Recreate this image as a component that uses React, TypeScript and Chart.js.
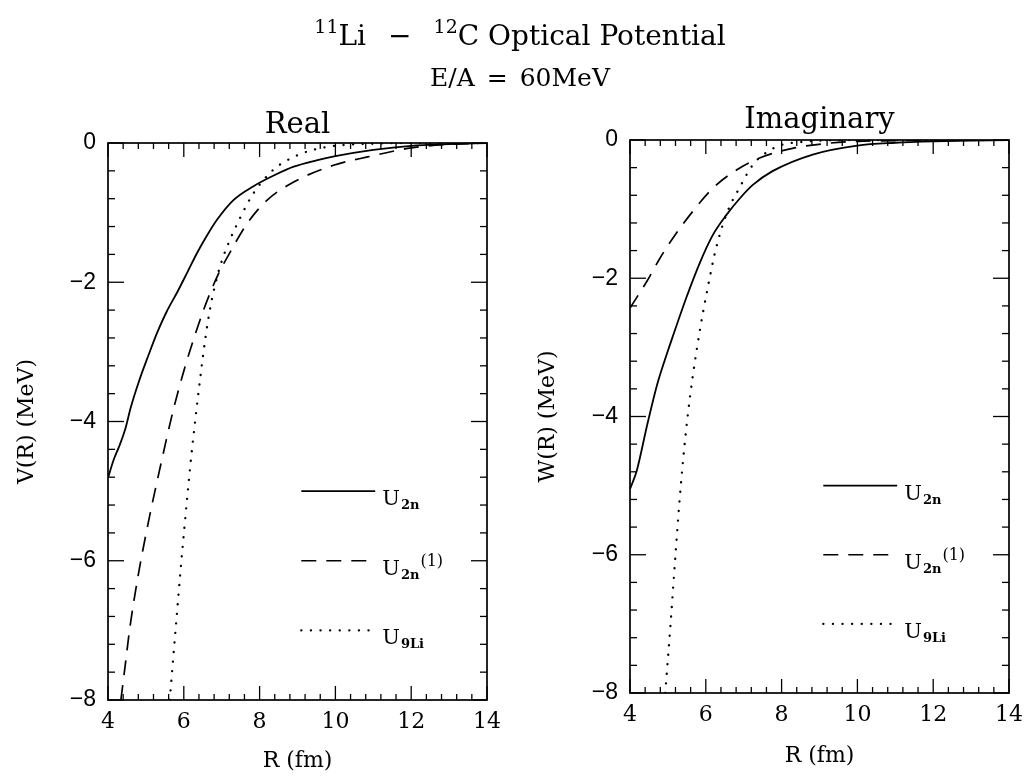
import React, { useEffect, useRef } from "react";
import { Chart, registerables } from "chart.js";
Chart.register(...registerables);

// ---------- data: Real part V(R) ----------
const realR_U2n = [4.0, 4.15, 4.3, 4.45, 4.6, 4.8, 5.06, 5.3, 5.55, 5.83, 6.1, 6.35, 6.6, 6.88, 7.31, 7.84, 8.4, 8.9, 9.5, 10, 11, 12, 13, 14];
const realV_U2n = [-4.81, -4.55, -4.35, -4.12, -3.8, -3.45, -3.06, -2.72, -2.42, -2.14, -1.85, -1.58, -1.34, -1.1, -0.82, -0.62, -0.46, -0.34, -0.25, -0.19, -0.1, -0.04, -0.015, 0];

const realR_U2n1 = [4.34, 4.45, 4.58, 4.79, 5.06, 5.38, 5.72, 6.04, 6.17, 6.52, 6.88, 7.23, 7.68, 8.2, 8.9, 9.95, 10.85, 12, 13, 14];
const realV_U2n1 = [-8, -7.52, -6.95, -6.23, -5.46, -4.65, -3.84, -3.2, -2.97, -2.4, -1.92, -1.56, -1.15, -0.82, -0.56, -0.32, -0.2, -0.07, -0.02, 0];

const realR_U9Li = [5.63, 5.72, 5.82, 5.92, 6.02, 6.12, 6.22, 6.33, 6.45, 6.57, 6.7, 6.88, 7.05, 7.25, 7.5, 7.84, 8.37, 8.9, 9.4, 10, 11, 12, 14];
const realV_U9Li = [-8, -7.4, -6.75, -6.1, -5.5, -4.92, -4.38, -3.85, -3.3, -2.8, -2.36, -1.92, -1.62, -1.35, -1.06, -0.72, -0.38, -0.2, -0.1, -0.04, -0.01, 0, 0];

// ---------- data: Imaginary part W(R) ----------
const imagR_U2n = [4.0, 4.05, 4.18, 4.45, 4.71, 5.0, 5.13, 5.5, 5.84, 6.18, 6.55, 6.89, 7.24, 7.76, 8.82, 10, 11, 12, 13, 14];
const imagW_U2n = [-5.05, -4.98, -4.78, -4.13, -3.55, -3.05, -2.84, -2.26, -1.78, -1.38, -1.08, -0.85, -0.65, -0.45, -0.21, -0.08, -0.04, -0.02, -0.01, 0];

const imagR_U2n1 = [4.0, 4.45, 4.79, 5.13, 5.66, 6.18, 6.82, 7.42, 8.29, 9.18, 10, 11, 12, 14];
const imagW_U2n1 = [-2.43, -2.04, -1.71, -1.42, -1.03, -0.7, -0.43, -0.26, -0.12, -0.05, -0.02, -0.01, 0, 0];

const imagR_U9Li = [4.93, 5.07, 5.2, 5.34, 5.52, 5.77, 6.1, 6.3, 6.6, 6.88, 7.24, 7.6, 8.0, 8.5, 9, 10, 12, 14];
const imagW_U9Li = [-8, -7, -6, -5, -4, -3, -2, -1.5, -1.0, -0.7, -0.36, -0.18, -0.07, -0.03, -0.01, 0, 0, 0];

// ---------- axes ----------
const xTickValues = [4, 6, 8, 10, 12, 14];
const yTickValues = [0, -2, -4, -6, -8];
const xMin = 4, xMax = 14, yMin = -8, yMax = 0;
const minorStep = 0.4;

const legendLabels = [
  { base: "U", sub: "2n", sup: "" },
  { base: "U", sub: "2n", sup: "(1)" },
  { base: "U", sub: "9Li", sup: "" },
];

const SERIF = '"DejaVu Serif", serif';
const SANS = '"Liberation Sans", Arial, sans-serif';

const SOLID: number[] = [];
const DASHED = [15, 10];
const DOTTED = [0.1, 9.5];

function pts(xs: number[], ys: number[]) {
  return xs.map((x, i) => ({ x, y: ys[i] }));
}

const decorPlugin = {
  id: "decor",
  afterDatasetsDraw(chart: any, _args: any, opts: any) {
    const { ctx, chartArea: a, scales } = chart;
    const xs = scales.x, ys = scales.y;
    ctx.save();
    ctx.strokeStyle = "#000";
    ctx.fillStyle = "#000";
    ctx.setLineDash([]);
    ctx.lineCap = "butt";
    const line = (x1: number, y1: number, x2: number, y2: number) => {
      ctx.beginPath();
      ctx.moveTo(x1, y1);
      ctx.lineTo(x2, y2);
      ctx.stroke();
    };
    // ticks
    ctx.lineWidth = 1.3;
    const nx = Math.round((xMax - xMin) / minorStep);
    for (let i = 0; i <= nx; i++) {
      const v = xMin + i * minorStep;
      const major = i % 5 === 0;
      const px = xs.getPixelForValue(v);
      const L = major ? 14 : 6;
      line(px, a.bottom, px, a.bottom - L);
      line(px, a.top, px, a.top + L);
    }
    const ny = Math.round((yMax - yMin) / minorStep);
    for (let i = 0; i <= ny; i++) {
      const v = yMax - i * minorStep;
      const major = i % 5 === 0;
      const py = ys.getPixelForValue(v);
      const L = major ? 16 : 7;
      line(a.left, py, a.left + L, py);
      line(a.right, py, a.right - L, py);
    }
    // frame
    ctx.lineWidth = 1.7;
    ctx.strokeRect(a.left, a.top, a.right - a.left, a.bottom - a.top);

    // panel title
    ctx.font = `29px ${SERIF}`;
    ctx.textAlign = "center";
    ctx.textBaseline = "alphabetic";
    ctx.fillText(opts.title, (a.left + a.right) / 2, a.top - opts.titleGap);

    // legend
    const lx1 = xs.getPixelForValue(opts.legendX[0]);
    const lx2 = xs.getPixelForValue(opts.legendX[1]);
    opts.legendStyles.forEach((st: any, k: number) => {
      const py = ys.getPixelForValue(opts.legendY[k]);
      ctx.lineWidth = st.width;
      ctx.setLineDash(st.dash);
      ctx.lineCap = st.cap;
      line(lx1, py, lx2, py);
      ctx.setLineDash([]);
      ctx.lineCap = "butt";
      const lab = legendLabels[k];
      ctx.textAlign = "left";
      ctx.font = `21px ${SERIF}`;
      let tx = lx2 + 7;
      ctx.fillText(lab.base, tx, py + 14);
      tx += ctx.measureText(lab.base).width + 1;
      ctx.font = `bold 13px ${SERIF}`;
      ctx.fillText(lab.sub, tx, py + 18);
      const sw = ctx.measureText(lab.sub).width;
      if (lab.sup) {
        ctx.font = `16px ${SERIF}`;
        ctx.fillText(lab.sup, tx + sw + 1, py + 5);
      }
    });
    ctx.restore();
  },
};

type Series = { xs: number[]; ys: number[]; dash: number[]; width: number; cap: string };

function Panel(props: {
  left: number;
  width: number;
  height: number;
  title: string;
  titleGap: number;
  yTitle: string;
  series: Series[];
  pad: { left: number; right: number; top: number; bottom: number };
  yAxisWidth: number;
  xAxisHeight: number;
}) {
  const ref = useRef<HTMLCanvasElement>(null);
  useEffect(() => {
    const canvas = ref.current!;
    const chart = new Chart(canvas, {
      type: "line",
      data: {
        datasets: props.series.map((s) => ({
          data: pts(s.xs, s.ys),
          borderColor: "#000",
          borderWidth: s.width,
          borderDash: s.dash,
          borderCapStyle: s.cap as any,
          pointRadius: 0,
          fill: false,
          cubicInterpolationMode: "monotone" as const,
        })),
      },
      options: {
        animation: false,
        responsive: false,
        maintainAspectRatio: false,
        devicePixelRatio: 1,
        events: [],
        layout: { padding: props.pad },
        plugins: {
          legend: { display: false },
          tooltip: { enabled: false },
          title: { display: false },
          decor: {
            title: props.title,
            titleGap: props.titleGap,
            legendX: [9.1, 11.05],
            legendY: [-5, -6, -7],
            legendStyles: props.series,
          },
        } as any,
        scales: {
          x: {
            type: "linear",
            min: xMin,
            max: xMax,
            afterBuildTicks: (s: any) => {
              s.ticks = xTickValues.map((v) => ({ value: v }));
            },
            afterFit: (s: any) => {
              s.height = props.xAxisHeight;
            },
            grid: { display: false, drawTicks: false },
            border: { display: false },
            ticks: {
              padding: 9,
              color: "#000",
              maxRotation: 0,
              autoSkip: false,
              font: { family: SERIF, size: 22 },
              callback: (v: any) => String(v),
            },
            title: {
              display: true,
              text: "R (fm)",
              color: "#000",
              padding: 0,
              font: { family: SERIF, size: 22 },
            },
          },
          y: {
            type: "linear",
            min: yMin,
            max: yMax,
            afterBuildTicks: (s: any) => {
              s.ticks = yTickValues.map((v) => ({ value: v }));
            },
            afterFit: (s: any) => {
              s.width = props.yAxisWidth;
            },
            grid: { display: false, drawTicks: false },
            border: { display: false },
            ticks: {
              padding: 12,
              color: "#000",
              autoSkip: false,
              font: { family: SANS, size: 23 },
              callback: (v: any) => (v < 0 ? "\u2212" + Math.abs(v) : String(v)),
            },
            title: {
              display: true,
              text: props.yTitle,
              color: "#000",
              padding: 0,
              font: { family: SERIF, size: 22 },
            },
          },
        },
      },
      plugins: [decorPlugin as any],
    });
    return () => chart.destroy();
  }, []);
  return (
    <canvas
      ref={ref}
      width={props.width}
      height={props.height}
      style={{ position: "absolute", left: props.left, top: 0, width: props.width, height: props.height }}
    />
  );
}

const realSeries: Series[] = [
  { xs: realR_U2n, ys: realV_U2n, dash: SOLID, width: 1.8, cap: "butt" },
  { xs: realR_U2n1, ys: realV_U2n1, dash: DASHED, width: 1.7, cap: "butt" },
  { xs: realR_U9Li, ys: realV_U9Li, dash: DOTTED, width: 2.3, cap: "round" },
];
const imagSeries: Series[] = [
  { xs: imagR_U2n, ys: imagW_U2n, dash: SOLID, width: 1.8, cap: "butt" },
  { xs: imagR_U2n1, ys: imagW_U2n1, dash: DASHED, width: 1.7, cap: "butt" },
  { xs: imagR_U9Li, ys: imagW_U9Li, dash: DOTTED, width: 2.3, cap: "round" },
];

export default function App() {
  const supStyle: React.CSSProperties = { fontSize: 19, position: "relative", top: -12, verticalAlign: "baseline" };
  return (
    <div style={{ position: "fixed", left: 0, top: 0, width: 1032, height: 777, background: "#fff", overflow: "hidden" }}>
      <Panel
        left={0}
        width={520}
        height={777}
        title="Real"
        titleGap={10}
        yTitle="V(R) (MeV)"
        series={realSeries}
        pad={{ left: 14, right: 33, top: 143, bottom: 3 }}
        yAxisWidth={94}
        xAxisHeight={74}
      />
      <Panel
        left={520}
        width={512}
        height={777}
        title="Imaginary"
        titleGap={12}
        yTitle="W(R) (MeV)"
        series={imagSeries}
        pad={{ left: 15, right: 22, top: 140, bottom: 8 }}
        yAxisWidth={95}
        xAxisHeight={76}
      />
      <div
        style={{
          position: "absolute",
          left: 0,
          top: 16,
          width: 1040,
          textAlign: "center",
          fontFamily: SERIF,
          fontSize: 28,
          lineHeight: "39px",
          color: "#000",
        }}
      >
        <div>
          <span style={supStyle}>11</span>Li
          <span style={{ display: "inline-block", margin: "0 22px" }}>&minus;</span>
          <span style={supStyle}>12</span>C Optical Potential
        </div>
        <div style={{ fontSize: 25 }}>
          E/A<span style={{ display: "inline-block", margin: "0 12px" }}>=</span>60MeV
        </div>
      </div>
    </div>
  );
}
